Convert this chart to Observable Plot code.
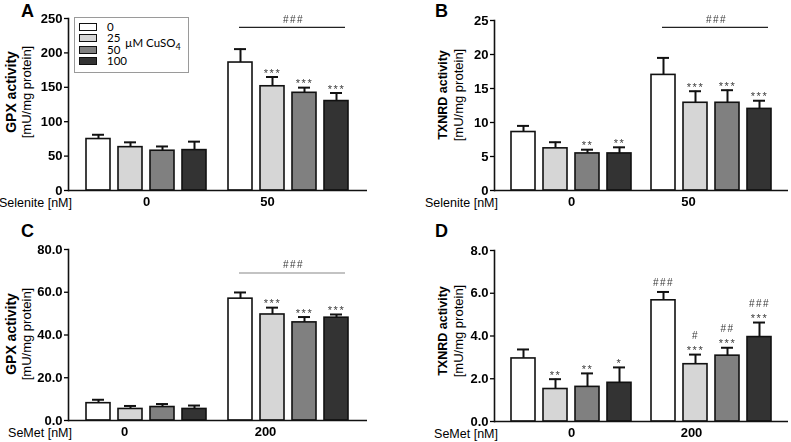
<!DOCTYPE html>
<html><head><meta charset="utf-8">
<script src="https://cdn.jsdelivr.net/npm/d3@7"></script>
<script src="https://cdn.jsdelivr.net/npm/@observablehq/plot@0.6"></script>
<style>
body{margin:0;background:#fff;}
#root{position:relative;width:791px;height:442px;overflow:hidden;font-family:"Liberation Sans",Arial,sans-serif;color:#000;}
.panel{position:absolute;filter:grayscale(1);}
.panel svg{position:absolute;left:0;top:0;}
.letter{position:absolute;font-weight:bold;font-size:18px;line-height:18px;}
.ytitle{position:absolute;transform:translate(-50%,-50%) rotate(-90deg);text-align:center;white-space:nowrap;}
.ytitle div{height:16px;line-height:16px;}
.ytitle .t1{font-weight:bold;}
.ytitle .t2{font-size:13px;}
.xtitle{position:absolute;font-size:12.5px;line-height:12px;text-align:right;white-space:nowrap;}
.legend{position:absolute;border:1px solid #9a9a9a;background:#fff;font-family:Lato,"Open Sans",sans-serif;font-size:11.5px;line-height:11px;}
.legend .row{position:absolute;left:4px;height:11px;display:flex;align-items:center;}
.legend .sw{width:16px;height:6px;border:1.5px solid #111;}
.legend .lab{margin-left:10px;line-height:11px;}
.legend .unit{position:absolute;line-height:12px;}
svg g[aria-label="text"]{letter-spacing:1.5px;}
</style>
</head><body><div id="root"></div>
<script>
// ---- shared ----
const doses = ["0", "25", "50", "100"];
const doseColors = ["#ffffff", "#d6d6d6", "#808080", "#333333"];

// ---- Panel A: GPX, Selenite ----
const groupsA = ["0", "50"];
const meanA = [74.8, 63, 57.8, 58.7, 186, 151.5, 142, 130];
const errA = [6.2, 7, 6.2, 12.3, 19.5, 13.5, 7.5, 11.7];
const starsA = ["", "", "", "", "", "***", "***", "***"];
const hashA = ["", "", "", "", "", "", "", ""];
const bracketA = 237;
const ticksA = [0, 50, 100, 150, 200, 250];

// ---- Panel B: TXNRD, Selenite ----
const groupsB = ["0", "50"];
const meanB = [8.6, 6.2, 5.45, 5.45, 17.0, 12.9, 12.9, 12.0];
const errB = [0.9, 0.9, 0.55, 0.9, 2.5, 1.7, 1.85, 1.2];
const starsB = ["", "", "**", "**", "", "***", "***", "***"];
const hashB = ["", "", "", "", "", "", "", ""];
const bracketB = 24;
const ticksB = [0, 5, 10, 15, 20, 25];

// ---- Panel C: GPX, SeMet ----
const groupsC = ["0", "200"];
const meanC = [8.1, 5.4, 6.3, 5.4, 57.0, 49.6, 45.9, 48.1];
const errC = [1.6, 1.4, 1.4, 1.6, 2.9, 3.2, 2.5, 1.5];
const starsC = ["", "", "", "", "", "***", "***", "***"];
const hashC = ["", "", "", "", "", "", "", ""];
const bracketC = 69;
const ticksC = [0, 20, 40, 60, 80];

// ---- Panel D: TXNRD, SeMet ----
const groupsD = ["0", "200"];
const meanD = [2.95, 1.52, 1.62, 1.81, 5.67, 2.68, 3.08, 3.95];
const errD = [0.42, 0.46, 0.63, 0.72, 0.39, 0.45, 0.37, 0.68];
const starsD = ["", "**", "**", "*", "", "***", "***", "***"];
const hashD = ["", "", "", "", "###", "#", "##", "###"];
const bracketD = null;
const ticksD = [0, 2, 4, 6, 8];

const root = document.getElementById("root");

function panel(cfg) {
  const rows = cfg.means.map((m, i) => ({
    group: cfg.groups[Math.floor(i / 4)],
    dose: doses[i % 4],
    value: m,
    hi: m + cfg.errs[i],
    star: cfg.stars[i],
    hash: cfg.hashes[i]
  }));
  const yDomain = [0, cfg.ticks[cfg.ticks.length - 1]];
  const dims = {width: cfg.width, height: cfg.height, marginLeft: 68, marginRight: cfg.marginRight, marginTop: cfg.marginTop, marginBottom: cfg.marginBottom};
  const style = {fontFamily: '"Liberation Sans", Arial, sans-serif', background: "transparent", overflow: "visible", color: "#000"};
  const marks = [
    Plot.ruleX(rows, {fx: "group", x: "dose", y1: "value", y2: "hi", stroke: "#111", strokeWidth: 2}),
    Plot.tickY(rows, {fx: "group", x: "dose", y: "hi", stroke: "#111", strokeWidth: 2, insetLeft: 6, insetRight: 6}),
    Plot.barY(rows, {fx: "group", x: "dose", y: "value", fill: "dose", stroke: "#111", strokeWidth: 1.6}),
    Plot.text(rows.filter(d => d.star), {fx: "group", x: "dose", y: "hi", text: "star", dy: -4, fontSize: 11, fill: "#3a3a3a"}),
    Plot.text(rows.filter(d => d.hash && d.star), {fx: "group", x: "dose", y: "hi", text: "hash", dy: -19, fontSize: 10, fill: "#3a3a3a"}),
    Plot.text(rows.filter(d => d.hash && !d.star), {fx: "group", x: "dose", y: "hi", text: "hash", dy: -9, fontSize: 10, fill: "#3a3a3a"})
  ];
  cfg.groups.forEach((g, i) => {
    marks.push(Plot.axisFx({ticks: [g], anchor: "bottom", tickSize: 0, tickPadding: 6, dx: cfg.labelShift[i], fontSize: 13, fontWeight: "bold", label: null}));
  });
  if (cfg.bracket != null) {
    const b = [{group: cfg.groups[1], y: cfg.bracket}];
    marks.push(Plot.ruleY(b, {fx: "group", y: "y", x1: () => doses[0], x2: () => doses[3], insetLeft: 11, insetRight: 3, stroke: cfg.bracketColor, strokeWidth: 1.2}));
    marks.push(Plot.text(b, {fx: "group", y: "y", text: () => "###", dy: -8, dx: 5, fontSize: 10, fill: "#3a3a3a"}));
  }
  const bars = Plot.plot({
    ...dims, style,
    fx: {domain: cfg.groups, paddingInner: 0.14, paddingOuter: 0.12},
    x: {domain: doses, paddingInner: 0.25, paddingOuter: 0, axis: null},
    y: {domain: yDomain, axis: null},
    color: {domain: doses, range: doseColors},
    marks
  });
  const axes = Plot.plot({
    ...dims, style,
    y: {domain: yDomain},
    marks: [
      Plot.ruleY([0], {stroke: "#111", strokeWidth: 1.6}),
      Plot.frame({anchor: "left", stroke: "#111", strokeWidth: 1.6}),
      Plot.axisY({ticks: cfg.ticks, tickFormat: cfg.fmt, tickSize: 4, tickPadding: 2, fontSize: 13, fontWeight: "bold", label: null, strokeWidth: 1.3})
    ]
  });
  const div = document.createElement("div");
  div.className = "panel";
  div.style.left = cfg.left + "px";
  div.style.top = cfg.top + "px";
  div.style.width = cfg.width + "px";
  div.style.height = cfg.height + "px";
  div.appendChild(bars);
  div.appendChild(axes);
  root.appendChild(div);

  const L = document.createElement("div");
  L.className = "letter";
  L.textContent = cfg.letter;
  L.style.left = cfg.letterX + "px";
  L.style.top = (cfg.top + 2) + "px";
  root.appendChild(L);

  const yt = document.createElement("div");
  yt.className = "ytitle";
  yt.style.left = cfg.titleX + "px";
  yt.style.top = (cfg.top + cfg.titleY) + "px";
  yt.innerHTML = `<div class="t1" style="font-size:${cfg.titleSize}px">${cfg.title}</div><div class="t2">[mU/mg protein]</div>`;
  root.appendChild(yt);

  const xt = document.createElement("div");
  xt.className = "xtitle";
  xt.textContent = cfg.xtitle;
  xt.style.right = (791 - (cfg.left + 72)) + "px";
  xt.style.top = (cfg.top + cfg.height - cfg.marginBottom + 7) + "px";
  root.appendChild(xt);
}

panel({letter: "A", letterX: 21, left: 0, top: 0, width: 395, height: 215, marginTop: 18, marginBottom: 25, marginRight: 28,
  groups: groupsA, means: meanA, errs: errA, stars: starsA, hashes: hashA, bracket: bracketA, bracketColor: "#222", labelShift: [0, -21],
  ticks: ticksA, fmt: d3.format("d"), title: "GPX activity", titleSize: 14, xtitle: "Selenite [nM]", titleX: 19, titleY: 92});
panel({letter: "B", letterX: 435, left: 426, top: 0, width: 365, height: 215, marginTop: 20, marginBottom: 25, marginRight: 3,
  groups: groupsB, means: meanB, errs: errB, stars: starsB, hashes: hashB, bracket: bracketB, bracketColor: "#222", labelShift: [0, -23],
  ticks: ticksB, fmt: d3.format("d"), title: "TXNRD activity", titleSize: 12.5, xtitle: "Selenite [nM]", titleX: 451, titleY: 95});
panel({letter: "C", letterX: 21, left: 0, top: 220, width: 395, height: 222, marginTop: 29, marginBottom: 22, marginRight: 28,
  groups: groupsC, means: meanC, errs: errC, stars: starsC, hashes: hashC, bracket: bracketC, bracketColor: "#888", labelShift: [-22, -23],
  ticks: ticksC, fmt: d3.format(".1f"), title: "GPX activity", titleSize: 14, xtitle: "SeMet [nM]", titleX: 19, titleY: 114});
panel({letter: "D", letterX: 435, left: 426, top: 220, width: 365, height: 222, marginTop: 30, marginBottom: 21, marginRight: 3,
  groups: groupsD, means: meanD, errs: errD, stars: starsD, hashes: hashD, bracket: bracketD, bracketColor: "#222", labelShift: [0, -20],
  ticks: ticksD, fmt: d3.format(".1f"), title: "TXNRD activity", titleSize: 12.5, xtitle: "SeMet [nM]", titleX: 451, titleY: 111});

// ---- legend (panel A) ----
const leg = document.createElement("div");
leg.className = "legend";
Object.assign(leg.style, {left: "74px", top: "17px", width: "113px", height: "54px"});
const rowY = [3, 14, 26, 37];
doses.forEach((d, i) => {
  const r = document.createElement("div");
  r.className = "row";
  r.style.top = rowY[i] + "px";
  r.innerHTML = `<div class="sw" style="background:${doseColors[i]}"></div><div class="lab">${d}</div>`;
  leg.appendChild(r);
});
const unit = document.createElement("div");
unit.className = "unit";
Object.assign(unit.style, {left: "50px", top: "19px"});
unit.innerHTML = "µM CuSO<sub style='font-size:9px;line-height:0'>4</sub>";
leg.appendChild(unit);
root.appendChild(leg);
</script>
</body></html>
